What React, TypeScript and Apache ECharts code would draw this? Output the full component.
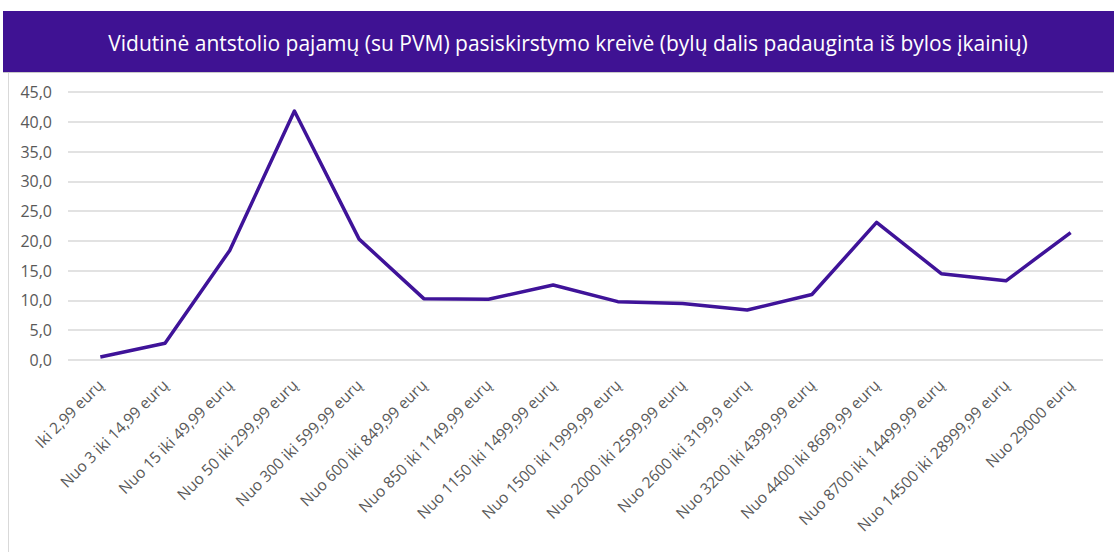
import React, { useEffect, useRef } from "react";
import * as echarts from "echarts";

const titleText =
  "Vidutinė antstolio pajamų (su PVM) pasiskirstymo kreivė (bylų dalis padauginta iš bylos įkainių)";

const categories = [
  "Iki 2,99 eurų",
  "Nuo 3 iki 14,99 eurų",
  "Nuo 15 iki 49,99 eurų",
  "Nuo 50 iki 299,99 eurų",
  "Nuo 300 iki 599,99 eurų",
  "Nuo 600 iki 849,99 eurų",
  "Nuo 850 iki 1149,99 eurų",
  "Nuo 1150 iki 1499,99 eurų",
  "Nuo 1500 iki 1999,99 eurų",
  "Nuo 2000 iki 2599,99 eurų",
  "Nuo 2600 iki 3199,9 eurų",
  "Nuo 3200 iki 4399,99 eurų",
  "Nuo 4400 iki 8699,99 eurų",
  "Nuo 8700 iki 14499,99 eurų",
  "Nuo 14500 iki 28999,99 eurų",
  "Nuo 29000 eurų",
];

const values = [0.5, 2.8, 18.4, 41.8, 20.3, 10.3, 10.2, 12.6, 9.8, 9.5, 8.4, 11.0, 23.1, 14.5, 13.3, 21.4];

const yMin = 0;
const yMax = 45;
const yStep = 5;

export default function App() {
  const ref = useRef<HTMLDivElement>(null);
  useEffect(() => {
    if (!ref.current) return;
    const chart = echarts.init(ref.current, undefined, { renderer: "svg" });
    const font = "'Open Sans', 'Noto Sans', sans-serif";
    chart.setOption({
      animation: false,
      backgroundColor: "#ffffff",
      graphic: [
        {
          type: "line",
          shape: { x1: 8.5, y1: 72, x2: 8.5, y2: 552 },
          style: { stroke: "#d9d9d9", lineWidth: 1 },
          silent: true,
        },
        {
          type: "rect",
          shape: { x: 3, y: 11, width: 1111, height: 61 },
          style: { fill: "#3f1293" },
          silent: true,
        },
        {
          type: "line",
          shape: { x1: 3, y1: 72.5, x2: 1114, y2: 72.5 },
          style: { stroke: "#c9c9c9", lineWidth: 1 },
          silent: true,
        },
        {
          type: "text",
          x: 568,
          y: 43,
          style: {
            text: titleText,
            fill: "#ffffff",
            font: `21px ${font}`,
            textAlign: "center",
            textVerticalAlign: "middle",
          },
          silent: true,
        },
      ],
      grid: { left: 68, right: 11, top: 92, bottom: 192, containLabel: false },
      xAxis: {
        type: "category",
        data: categories,
        boundaryGap: true,
        axisLine: { show: false },
        axisTick: { show: false },
        axisLabel: {
          rotate: 45,
          interval: 0,
          color: "#595959",
          fontSize: 15.5,
          fontFamily: font,
          margin: 22,
        },
      },
      yAxis: {
        type: "value",
        min: yMin,
        max: yMax,
        interval: yStep,
        axisLine: { show: false },
        axisTick: { show: false },
        splitLine: { lineStyle: { color: "#d9d9d9", width: 1.5 } },
        axisLabel: {
          color: "#595959",
          fontSize: 16,
          fontFamily: font,
          margin: 16,
          formatter: (v: number) => v.toFixed(1).replace(".", ","),
        },
      },
      series: [
        {
          type: "line",
          data: values,
          symbol: "none",
          lineStyle: { color: "#3f1399", width: 3.5, join: "round" },
        },
      ],
    });
    return () => chart.dispose();
  }, []);
  return (
    <div
      ref={ref}
      style={{ position: "fixed", left: 0, top: 0, width: 1114, height: 552 }}
    />
  );
}
